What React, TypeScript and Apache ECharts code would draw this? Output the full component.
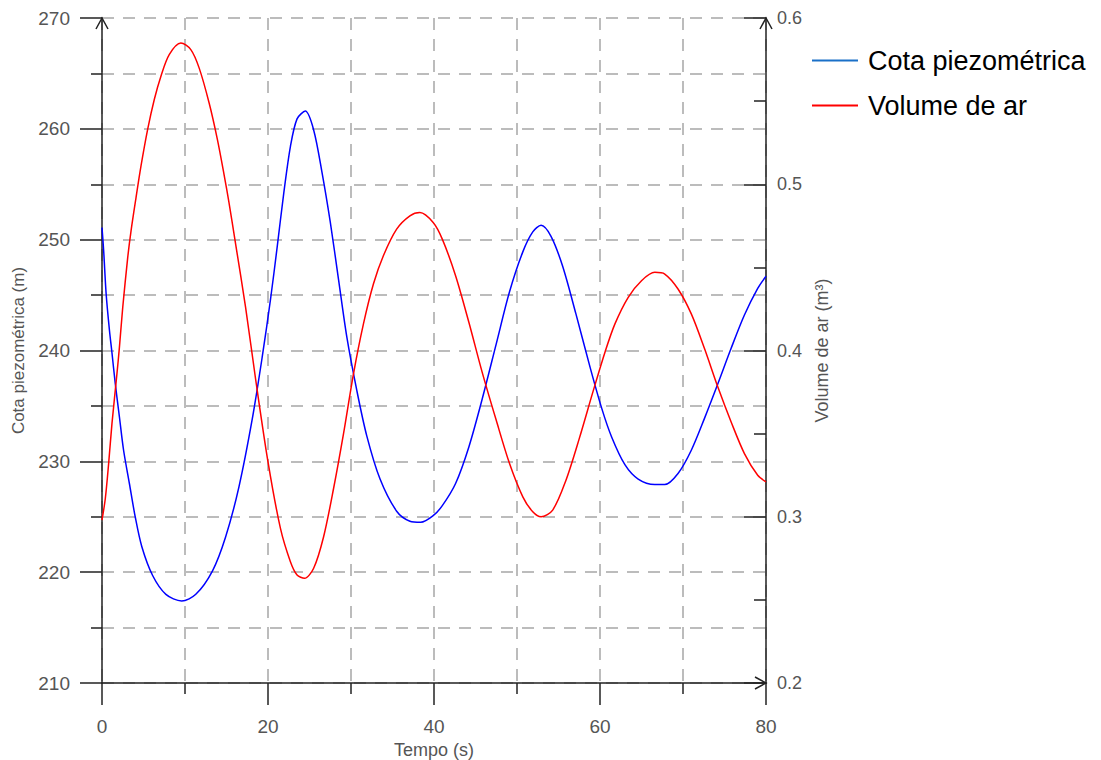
import React, { useEffect, useRef } from "react";
import * as echarts from "echarts";

// Time (s) and piezometric head (m)
const cotaPoints: [number, number][] = [
  [0, 251.1], [0.2, 249.0], [0.5, 245.1], [0.9, 241.8], [1.2, 239.8], [1.6, 237.0],
  [2.1, 234.0], [2.6, 231.0], [3.3, 228.0], [4.0, 225.0], [4.8, 222.3], [6.1, 219.7],
  [7.7, 218.0], [9.6, 217.4], [11.3, 218.0], [13.3, 220.1], [14.9, 223.2], [16.5, 227.7],
  [18.1, 233.8], [19.3, 239.4], [20.3, 244.6], [21.1, 249.3], [21.9, 254.2], [22.7, 258.4],
  [23.5, 260.9], [24.5, 261.6], [25.5, 259.9], [26.5, 256.1], [27.5, 251.6], [28.5, 246.4],
  [29.5, 241.2], [30.7, 236.4], [31.9, 232.3], [33.5, 228.4], [35.5, 225.5], [37.1, 224.6],
  [38.4, 224.5], [39.9, 225.1], [41.0, 226.0], [42.6, 228.0], [44.2, 231.3], [45.8, 235.6],
  [47.5, 240.6], [49.1, 245.3], [50.7, 248.9], [51.9, 250.7], [52.9, 251.3], [54.1, 250.3],
  [55.5, 247.6], [57.1, 243.3], [58.8, 238.5], [60.2, 234.8], [61.4, 232.2], [63.0, 229.7],
  [64.6, 228.4], [66.6, 227.9], [67.8, 227.9], [69.4, 228.9], [71.0, 231.0], [72.6, 233.9],
  [74.2, 237.0], [75.8, 240.2], [77.4, 243.2], [79.0, 245.6], [80, 246.7],
];

// Time (s) and air volume (m³)
const volumePoints: [number, number][] = [
  [0, 0.298], [0.4, 0.311], [0.8, 0.332], [1.2, 0.356], [1.8, 0.386], [2.1, 0.402],
  [2.5, 0.426], [3.1, 0.456], [3.5, 0.472], [4.1, 0.492], [4.7, 0.511], [5.5, 0.533],
  [6.3, 0.551], [7.1, 0.565], [8.1, 0.578], [9.5, 0.585], [10.7, 0.581], [11.7, 0.570],
  [12.9, 0.549], [13.9, 0.527], [14.7, 0.506], [15.3, 0.489], [16.1, 0.464], [17.3, 0.426],
  [18.5, 0.383], [20.0, 0.333], [21.5, 0.293], [22.7, 0.273], [23.5, 0.265], [24.4, 0.263],
  [25.5, 0.269], [26.7, 0.288], [27.9, 0.317], [29.1, 0.350], [30.3, 0.386], [31.5, 0.416],
  [32.7, 0.440], [33.9, 0.457], [35.5, 0.473], [37.1, 0.481], [38.3, 0.483], [39.9, 0.477],
  [41.0, 0.467], [42.6, 0.445], [44.2, 0.417], [45.8, 0.387], [47.5, 0.358], [49.1, 0.332],
  [50.7, 0.312], [51.9, 0.303], [52.9, 0.300], [54.3, 0.304], [55.9, 0.322], [57.5, 0.347],
  [59.2, 0.376], [60.6, 0.399], [61.8, 0.416], [63.4, 0.432], [65.0, 0.442], [66.6, 0.447],
  [67.8, 0.446], [69.4, 0.437], [71.0, 0.422], [72.6, 0.401], [74.2, 0.378], [75.8, 0.357],
  [77.4, 0.338], [79.0, 0.325], [80, 0.321],
];

const seriesNames = ["Cota piezométrica", "Volume de ar"];
const xLabels = [0, 20, 40, 60, 80];
const leftLabels = [210, 220, 230, 240, 250, 260, 270];
const rightLabels = [0.2, 0.3, 0.4, 0.5, 0.6];

const FONT = "Liberation Sans, Arial, sans-serif";
const AXIS = "#222";
const LABEL = "#555";
const GRID_LINE = { show: true, lineStyle: { color: "#a6a6a6", width: 1.5, type: [12, 9] as any } };

export default function App() {
  const ref = useRef<HTMLDivElement>(null);
  useEffect(() => {
    if (!ref.current) return;
    document.documentElement.style.overflow = "hidden";
    document.body.style.margin = "0";
    document.body.style.overflow = "hidden";
    const chart = echarts.init(ref.current, undefined, { renderer: "svg", width: 1101, height: 760 });
    chart.setOption({
      animation: false,
      backgroundColor: "#fff",
      textStyle: { fontFamily: FONT },
      grid: { left: 102, right: 335, top: 18, bottom: 77, containLabel: false, outerBoundsMode: "none" },
      legend: {
        orient: "vertical",
        left: 812,
        top: 47,
        padding: 0,
        itemWidth: 46,
        itemHeight: 2,
        itemGap: 18,
        textStyle: { fontSize: 27, color: "#000", fontFamily: FONT, lineHeight: 27, padding: [0, 0, 0, 5] },
        data: [
          { name: seriesNames[0], icon: "rect", itemStyle: { color: "#1a70c8" } },
          { name: seriesNames[1], icon: "rect", itemStyle: { color: "#ff0000" } },
        ],
      },
      xAxis: {
        type: "value",
        min: 0,
        max: 80,
        interval: 20,
        name: "Tempo (s)",
        nameLocation: "middle",
        nameGap: 53,
        nameTextStyle: { fontSize: 18, color: LABEL, fontFamily: FONT },
        axisLine: { show: true, onZero: false, lineStyle: { color: AXIS, width: 1.5 } },
        axisTick: { show: true, length: 22, lineStyle: { color: AXIS, width: 1.5 } },
        minorTick: { show: true, splitNumber: 2, length: 11, lineStyle: { color: AXIS, width: 1.5 } },
        axisLabel: {
          fontSize: 19,
          color: LABEL,
          margin: 34,
          formatter: (v: number) => (xLabels.includes(v) ? String(v) : ""),
        },
        splitLine: GRID_LINE,
        minorSplitLine: GRID_LINE,
      },
      yAxis: [
        {
          type: "value",
          min: 210,
          max: 270,
          interval: 10,
          position: "left",
          name: "Cota piezométrica (m)",
          nameLocation: "middle",
          nameGap: 69,
          nameRotate: 90,
          nameTextStyle: { fontSize: 17, color: LABEL, fontFamily: FONT },
          axisLine: { show: true, onZero: false, lineStyle: { color: AXIS, width: 1.5 } },
          axisTick: { show: true, length: 22, lineStyle: { color: AXIS, width: 1.5 } },
          minorTick: { show: true, splitNumber: 2, length: 11, lineStyle: { color: AXIS, width: 1.5 } },
          axisLabel: {
            fontSize: 19,
            color: LABEL,
            margin: 32,
            formatter: (v: number) => (leftLabels.includes(v) ? String(v) : ""),
          },
          splitLine: GRID_LINE,
          minorSplitLine: GRID_LINE,
        },
        {
          type: "value",
          min: 0.2,
          max: 0.6,
          interval: 0.1,
          position: "right",
          name: "Volume de ar (m³)",
          nameLocation: "middle",
          nameGap: 46,
          nameRotate: 90,
          nameTextStyle: { fontSize: 18, color: LABEL, fontFamily: FONT },
          axisLine: { show: true, onZero: false, lineStyle: { color: AXIS, width: 1.5 } },
          axisTick: { show: true, inside: true, length: 22, lineStyle: { color: AXIS, width: 1.5 } },
          minorTick: { show: true, splitNumber: 2, length: 12, lineStyle: { color: AXIS, width: 1.5 } },
          axisLabel: {
            fontSize: 18,
            color: LABEL,
            margin: 11,
            formatter: (v: number) => {
              const r = Math.round(v * 10) / 10;
              return rightLabels.includes(r) ? r.toFixed(1) : "";
            },
          },
          splitLine: { show: false },
          minorSplitLine: { show: false },
        },
      ],
      series: [
        {
          name: seriesNames[0],
          type: "line",
          yAxisIndex: 0,
          data: cotaPoints,
          showSymbol: false,
          smooth: 0.3,
          lineStyle: { color: "#0000ff", width: 1.5 },
          itemStyle: { color: "#0000ff" },
          z: 3,
        },
        {
          name: seriesNames[1],
          type: "line",
          yAxisIndex: 1,
          data: volumePoints,
          showSymbol: false,
          smooth: 0.3,
          lineStyle: { color: "#ff0000", width: 1.5 },
          itemStyle: { color: "#ff0000" },
          z: 3,
        },
      ],
    });

    // open chevron arrowheads at the axis ends
    const tl = chart.convertToPixel({ xAxisIndex: 0, yAxisIndex: 0 }, [0, 270]) as number[];
    const br = chart.convertToPixel({ xAxisIndex: 0, yAxisIndex: 0 }, [80, 210]) as number[];
    const arrowStyle = { stroke: AXIS, lineWidth: 1.5, fill: "none" };
    chart.setOption({
      graphic: [
        { type: "polyline", z: 100, shape: { points: [[tl[0] - 6, tl[1] + 11], [tl[0], tl[1]], [tl[0] + 6, tl[1] + 11]] }, style: arrowStyle },
        { type: "polyline", z: 100, shape: { points: [[br[0] - 6, tl[1] + 11], [br[0], tl[1]], [br[0] + 6, tl[1] + 11]] }, style: arrowStyle },
        { type: "polyline", z: 100, shape: { points: [[br[0] - 11, br[1] - 6], [br[0], br[1]], [br[0] - 11, br[1] + 6]] }, style: arrowStyle },
      ],
    });
    return () => chart.dispose();
  }, []);
  return <div ref={ref} style={{ width: 1101, height: 760, background: "#fff" }} />;
}
